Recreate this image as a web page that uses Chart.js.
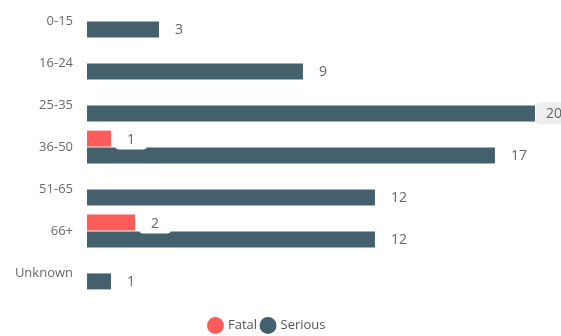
<!DOCTYPE html>
<html>
<head>
<meta charset="utf-8">
<script src="https://cdn.jsdelivr.net/npm/chart.js@4"></script>
<style>
  html, body { margin: 0; padding: 0; background: #fff; }
  #wrap { width: 561px; height: 336px; position: relative; }
</style>
</head>
<body>
<div id="wrap"><canvas id="ageChart"></canvas></div>
<script>
const ageGroups = ['0-15', '16-24', '25-35', '36-50', '51-65', '66+', 'Unknown'];
const fatal = [null, null, null, 1, null, 2, null];
const serious = [3, 9, 20, 17, 12, 12, 1];

const FONT = '"Segoe UI", "Open Sans", sans-serif';

// value labels with a little white box behind them
const valueLabels = {
    id: 'valueLabels',
    afterDatasetsDraw(chart) {
        const ctx = chart.ctx;
        const area = chart.chartArea;
        ctx.save();
        ctx.font = '14px ' + FONT;
        ctx.textAlign = 'left';
        ctx.textBaseline = 'middle';
        chart.data.datasets.forEach((ds, i) => {
            chart.getDatasetMeta(i).data.forEach((bar, j) => {
                const v = ds.data[j];
                if (v == null) return;
                const text = String(v);
                const clipped = bar.x > area.right;
                const pad = clipped ? 10 : 12;
                const w = ctx.measureText(text).width + pad * 2;
                const h = 22;
                const x = clipped ? area.right + 1 : bar.x + 4;
                ctx.fillStyle = clipped ? '#eeeeee' : '#ffffff';
                ctx.beginPath();
                ctx.roundRect(x, bar.y - h / 2, w, h, 4);
                ctx.fill();
                ctx.fillStyle = '#666';
                ctx.fillText(text, x + pad, bar.y + 1);
            });
        });
        ctx.restore();
    }
};

new Chart(document.getElementById('ageChart'), {
    type: 'bar',
    data: {
        labels: ageGroups,
        datasets: [
            { label: 'Fatal', data: fatal, backgroundColor: '#fd5c5a', borderWidth: 0,
              barPercentage: 0.95, categoryPercentage: 0.8 },
            { label: 'Serious', data: serious, backgroundColor: '#44606c', borderWidth: 0,
              barPercentage: 0.95, categoryPercentage: 0.8 }
        ]
    },
    options: {
        indexAxis: 'y',
        responsive: true,
        maintainAspectRatio: false,
        animation: false,
        layout: { padding: { top: -4, right: 26, left: 0, bottom: -6 } },
        plugins: {
            tooltip: { enabled: false },
            legend: {
                position: 'bottom',
                labels: {
                    usePointStyle: true,
                    pointStyle: 'circle',
                    boxWidth: 12,
                    boxHeight: 12,
                    padding: 5,
                    color: '#555',
                    font: { family: FONT, size: 13 }
                }
            }
        },
        scales: {
            x: {
                min: 0,
                max: 18.67,
                grid: { display: false },
                border: { display: false },
                ticks: { display: false },
                afterFit(scale) { scale.height = 20; }
            },
            y: {
                grid: { display: false },
                border: { display: false },
                ticks: { color: '#6a6a6a', padding: 6, font: { family: FONT, size: 13 } },
                afterFit(scale) {
                    scale.width = 87;
                    scale.paddingTop = 0;
                    scale.paddingBottom = 0;
                }
            }
        }
    },
    plugins: [valueLabels]
});
</script>
</body>
</html>
